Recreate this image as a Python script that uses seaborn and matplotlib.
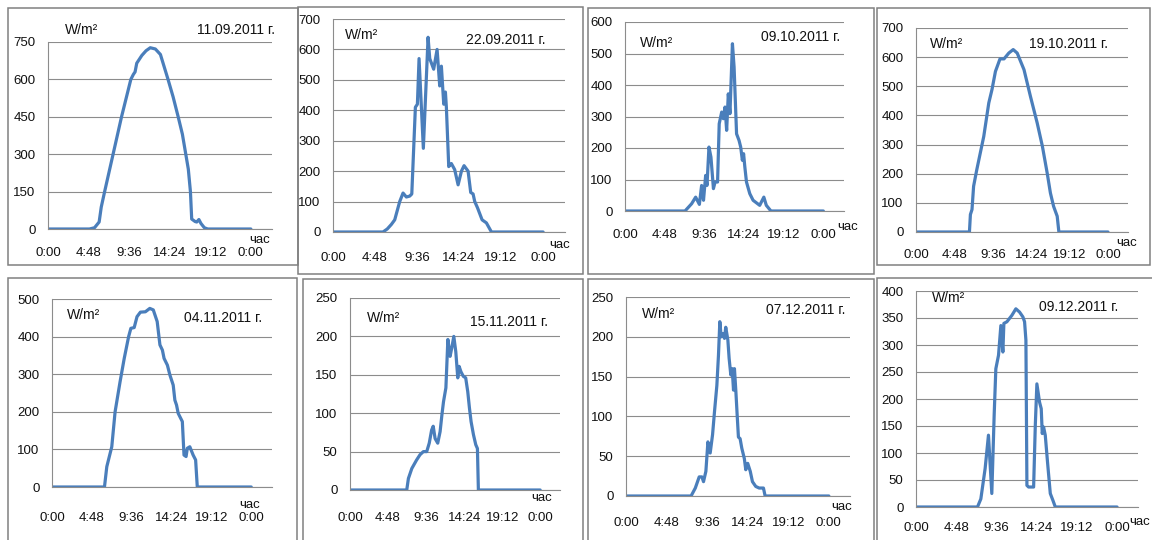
import matplotlib
matplotlib.use("Agg")
import matplotlib.pyplot as plt
import seaborn as sns
import pandas as pd
from matplotlib.patches import Rectangle

sns.set_style("white")
FONT = ['Liberation Sans Narrow', 'Liberation Sans', 'DejaVu Sans']
plt.rcParams['font.family'] = FONT

W, H = 1152, 540

# ---------------- data (hour of day, W/m2) ----------------
dates = ["11.09.2011 г.", "22.09.2011 г.", "09.10.2011 г.", "19.10.2011 г.",
         "04.11.2011 г.", "15.11.2011 г.", "07.12.2011 г.", "09.12.2011 г."]

h_1109 = [0, 4.9, 5.5, 6.05, 6.3, 6.7, 7.7, 8.7, 9.8, 10.1, 10.3, 10.5, 11.1, 11.6, 12.1,
          12.7, 13.3, 14.2, 14.8, 15.4, 15.9, 16.3, 16.6, 16.85, 17.0, 17.4, 17.6, 17.85,
          18.1, 18.5, 18.9, 24]
w_1109 = [0, 0, 5, 28, 88, 150, 300, 450, 600, 620, 630, 665, 696, 715, 727,
          722, 700, 600, 530, 450, 380, 300, 240, 150, 40, 30, 28, 38,
          22, 5, 0, 0]

h_2209 = [0, 5.71, 6.2, 6.67, 7.05, 7.62, 8.0, 8.38, 8.76, 9.0, 9.41, 9.64, 9.83, 10.32,
          10.86, 11.05, 11.5, 11.89, 12.19, 12.38, 12.65, 12.84, 12.95, 13.22, 13.52,
          13.9, 14.29, 14.67, 14.97, 15.43, 15.73, 16.0, 16.19, 16.5, 17.03, 17.52, 18.1, 24]
w_2209 = [0, 0, 10, 25, 40, 100, 128, 115, 118, 125, 410, 420, 570, 275,
          640, 570, 535, 600, 480, 545, 420, 460, 410, 215, 225,
          205, 155, 200, 218, 200, 130, 125, 100, 80, 40, 30, 0, 0]

h_0910 = [0, 7.26, 8.06, 8.55, 9.0, 9.27, 9.5, 9.76, 9.92, 10.16, 10.4, 10.7, 10.9, 11.2,
          11.4, 11.7, 11.9, 12.1, 12.3, 12.5, 12.7, 13.0, 13.2, 13.5, 13.8, 14.0, 14.2,
          14.35, 14.5, 14.7, 15.1, 15.5, 16.3, 16.8, 17.1, 17.66, 24]
w_0910 = [0, 0, 23, 44, 21, 81, 34, 113, 81, 203, 171, 71, 92, 92,
          277, 314, 293, 330, 256, 372, 309, 531, 457, 245, 224, 203, 161,
          182, 140, 92, 55, 34, 18, 44, 18, 0, 0]

h_1910 = [0, 6.68, 6.8, 7.0, 7.2, 7.6, 8.47, 9.1, 9.5, 9.93, 10.5, 11.0, 11.6, 12.15,
          12.65, 13.5, 14.3, 15.15, 15.8, 16.4, 16.8, 17.2, 17.65, 17.86, 24]
w_1910 = [0, 0, 60, 77, 157, 214, 328, 443, 489, 551, 594, 594, 614, 626,
          614, 557, 466, 374, 294, 202, 134, 88, 54, 0, 0]

h_0411 = [0, 6.32, 6.6, 7.2, 7.6, 8.2, 8.7, 9.23, 9.5, 9.9, 10.24, 10.65, 11.25, 11.78,
          12.2, 12.67, 13.0, 13.3, 13.5, 13.9, 14.2, 14.6, 14.8, 15.0, 15.2, 15.7, 15.9,
          16.15, 16.3, 16.6, 17.0, 17.3, 17.5, 24]
w_0411 = [0, 0, 54, 107, 200, 280, 342, 400, 422, 424, 453, 465, 466, 475,
          471, 440, 378, 364, 342, 324, 298, 271, 231, 218, 196, 174, 85,
          81, 103, 107, 85, 72, 0, 0]

h_1511 = [0, 7.16, 7.37, 7.8, 8.4, 8.84, 9.26, 9.68, 10.0, 10.3, 10.5, 10.74, 11.07, 11.37,
          11.6, 11.8, 12.1, 12.35, 12.63, 12.84, 13.1, 13.35, 13.6, 13.77, 14.0, 14.3, 14.6,
          14.86, 15.07, 15.28, 15.58, 15.87, 16.08, 16.2, 24]
w_1511 = [0, 0, 15, 28, 39, 46, 50, 50, 61, 78, 83, 67, 61, 76,
          98, 115, 133, 196, 174, 185, 200, 180, 146, 161, 154, 148, 146,
          128, 107, 89, 72, 59, 54, 0, 0]

h_0712 = [0, 7.7, 8.2, 8.66, 8.98, 9.17, 9.45, 9.69, 9.96, 10.24, 10.47, 10.75, 10.94, 11.1,
          11.26, 11.46, 11.65, 11.8, 12.05, 12.2, 12.4, 12.56, 12.72, 12.83, 13.0, 13.15,
          13.3, 13.5, 13.7, 14.0, 14.17, 14.4, 14.7, 14.96, 15.35, 15.75, 16.06, 16.26,
          16.46, 24]
w_0712 = [0, 0, 10, 24, 24, 18, 31, 68, 54, 77, 106, 139, 177, 219,
          200, 204, 198, 212, 196, 173, 152, 160, 133, 160, 131, 102,
          74, 72, 60, 47, 33, 41, 31, 18, 12, 10, 10, 10,
          0, 0]

h_0912 = [0, 7.34, 7.74, 8.25, 8.65, 9.05, 9.33, 9.53, 9.85, 10.13, 10.37, 10.49, 10.85,
          11.45, 11.92, 12.36, 12.76, 12.96, 13.12, 13.24, 13.44, 14.04, 14.24, 14.43, 14.75,
          14.95, 15.07, 15.23, 15.43, 15.7, 16.03, 16.35, 16.63, 24]
w_0912 = [0, 0, 15, 71, 133, 25, 170, 256, 281, 336, 287, 340, 343,
          355, 367, 361, 352, 343, 309, 40, 37, 37, 151, 228, 194,
          182, 136, 148, 133, 83, 25, 12, 0, 0]

hours = [h_1109, h_2209, h_0910, h_1910, h_0411, h_1511, h_0712, h_0912]
values = [w_1109, w_2209, w_0910, w_1910, w_0411, w_1511, w_0712, w_0912]

y_max = [750, 700, 600, 700, 500, 250, 250, 400]
y_step = [150, 100, 100, 100, 100, 50, 50, 50]
x_ticks = [0, 4.8, 9.6, 14.4, 19.2, 24]
x_labels = ["0:00", "4:48", "9:36", "14:24", "19:12", "0:00"]
unit_label = "W/m²"
axis_label = "час"

# ---------------- layout (pixel coordinates) ----------------
plot_px = [(48, 42, 272, 229), (333, 19, 565, 232), (625, 22, 844, 211), (916, 28, 1128, 232),
           (52, 299, 272, 487), (350, 298, 560, 490), (626, 297, 850, 496), (916, 291, 1138, 507)]
frame_px = [(8, 8, 298, 265), (298, 7, 583, 274), (588, 8, 874, 274), (877, 8, 1150, 265),
            (8, 278, 297, 545), (303, 279, 583, 545), (588, 279, 874, 545), (877, 278, 1160, 545)]
xgap_px = [16, 18, 16, 15, 23, 20, 19, 13]
unit_pos = [(65, 30), (345, 35), (640, 43), (930, 44), (67, 315), (367, 318), (642, 314), (932, 298)]
date_pos = [(275, 30), (545, 40), (840, 37), (1108, 44), (262, 318), (548, 322), (845, 310), (1118, 307)]
hour_pos = [(260, 240), (560, 245), (848, 227), (1127, 243), (250, 505), (542, 498), (842, 507), (1140, 522)]

LINE = "#4A7EBB"
GRID = "#8c8c8c"
TXT = "#111111"

fig = plt.figure(figsize=(W / 100, H / 100), dpi=100)
fig.patch.set_facecolor("white")

def fx(x):
    return x / W

def fy(y):
    return 1 - y / H

for (l, t, r, b) in frame_px:
    fig.patches.append(Rectangle((fx(l), fy(b)), fx(r - l), (b - t) / H,
                                 transform=fig.transFigure, fill=False,
                                 edgecolor="#808080", linewidth=1.1, zorder=0))

for i in range(8):
    l, t, r, b = plot_px[i]
    ax = fig.add_axes([fx(l), fy(b), fx(r - l), (b - t) / H])
    ax.set_facecolor("none")
    df = pd.DataFrame({"hour": hours[i], "W": values[i]})
    sns.lineplot(data=df, x="hour", y="W", ax=ax, color=LINE, linewidth=2.3,
                 estimator=None, sort=False)
    ax.set_xlim(0, 26.5)
    ax.set_ylim(0, y_max[i])
    ax.set_yticks(list(range(0, y_max[i] + 1, y_step[i])))
    ax.set_xticks(x_ticks)
    ax.set_xticklabels(x_labels)
    ax.set_xlabel("")
    ax.set_ylabel("")
    ax.yaxis.grid(True, color=GRID, linewidth=0.8)
    ax.xaxis.grid(False)
    for s in ("top", "right"):
        ax.spines[s].set_visible(False)
    for s in ("left", "bottom"):
        ax.spines[s].set_color(GRID)
        ax.spines[s].set_linewidth(0.8)
    ax.tick_params(axis="x", direction="out", length=4, width=0.8, color=GRID,
                   pad=(xgap_px[i] - 4) * 0.72, labelsize=9.5, labelcolor=TXT)
    ax.tick_params(axis="y", direction="out", length=0, pad=9,
                   labelsize=9.5, labelcolor=TXT)
    ax.set_axisbelow(True)

    ux, uy = unit_pos[i]
    fig.text(fx(ux), fy(uy), unit_label, ha="left", va="center", fontsize=10, color=TXT)
    dx, dy = date_pos[i]
    fig.text(fx(dx), fy(dy), dates[i], ha="right", va="center", fontsize=10, color=TXT)
    hx, hy = hour_pos[i]
    fig.text(fx(hx), fy(hy), axis_label, ha="center", va="center", fontsize=9.5, color=TXT)

fig.savefig("out.png", dpi=100, facecolor="white")
